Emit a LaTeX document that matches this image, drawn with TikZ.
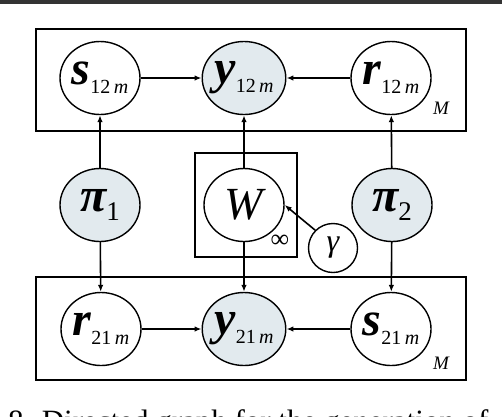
\documentclass[tikz,border=0pt]{standalone}
\usepackage{fontspec}
\setmainfont{Liberation Serif}
\usetikzlibrary{shapes.geometric,arrows.meta}
\definecolor{obsfill}{RGB}{226,234,238}
\newcommand\mainv[1]{{\fontsize{48}{48}\selectfont\bfseries\itshape #1}}
\newcommand\subv[1]{\raisebox{-9pt}{\fontsize{20}{20}\selectfont #1}}
\newcommand\subpi[1]{\raisebox{-9pt}{\fontsize{27}{27}\selectfont #1}}
\begin{document}
\begin{tikzpicture}[x=1pt,y=-1pt,
  var/.style={ellipse,draw,line width=1.4pt,minimum width=80pt,minimum height=73pt,inner sep=0pt,fill=white},
  obs/.style={var,fill=obsfill},
  small/.style={circle,draw,line width=1.4pt,minimum size=49pt,inner sep=0pt,fill=white},
  plate/.style={draw,line width=1.8pt},
  edge/.style={line width=1.6pt,-{Latex[length=7pt,width=5.5pt]}}]
\useasboundingbox (0,0) rectangle (502,416);
\clip (0,0) rectangle (502,416);
\fill[black!80] (0,0) rectangle (502,3.5);
% plates
\draw[plate] (36,29) rectangle (466,131);
\draw[plate] (36,277) rectangle (466,380);
\draw[line width=1.5pt] (195,153) rectangle (297,257);
\node[font=\fontsize{19}{19}\selectfont\itshape] (M1) at (441,108) {M};
\node[font=\fontsize{19}{19}\selectfont\itshape] (M2) at (441,363) {M};
\node[font=\fontsize{26}{26}\selectfont] (inf) at (280,241) {∞};
% nodes
\node[var] (s12) at (100,78) {\mainv{s}\subv{12\,\textit{m}}};
\node[obs] (y12) at (244,78) {\mainv{y}\subv{12\,\textit{m}}};
\node[var] (r12) at (391,78) {\mainv{r}\subv{12\,\textit{m}}};
\node[obs] (pi1) at (100,205) {\mainv{π}\subpi{1}};
\node[var] (W) at (244,205) {\fontsize{46}{46}\selectfont\itshape W};
\node[obs] (pi2) at (392,205) {\mainv{π}\subpi{2}};
\node[small] (g) at (333,248) {\fontsize{32}{32}\selectfont\itshape γ};
\node[var] (r21) at (101,329) {\mainv{r}\subv{21\,\textit{m}}};
\node[obs] (y21) at (244,329) {\mainv{y}\subv{21\,\textit{m}}};
\node[var] (s21) at (391,329) {\mainv{s}\subv{21\,\textit{m}}};
% edges
\draw[edge] (s12) -- (y12);
\draw[edge] (r12) -- (y12);
\draw[edge] (pi1) -- (s12);
\draw[edge] (W) -- (y12);
\draw[edge] (pi2) -- (r12);
\draw[edge] (pi1) -- (r21);
\draw[edge] (W) -- (y21);
\draw[edge] (pi2) -- (s21);
\draw[edge] (r21) -- (y21);
\draw[edge] (s21) -- (y21);
\draw[edge] (g.135) -- (W.east);
% caption
\node[anchor=base west,inner sep=0pt,font=\fontsize{31}{31}\selectfont] (cap) at (8,431) {8. Directed graph for the generation of};
\end{tikzpicture}
\end{document}
